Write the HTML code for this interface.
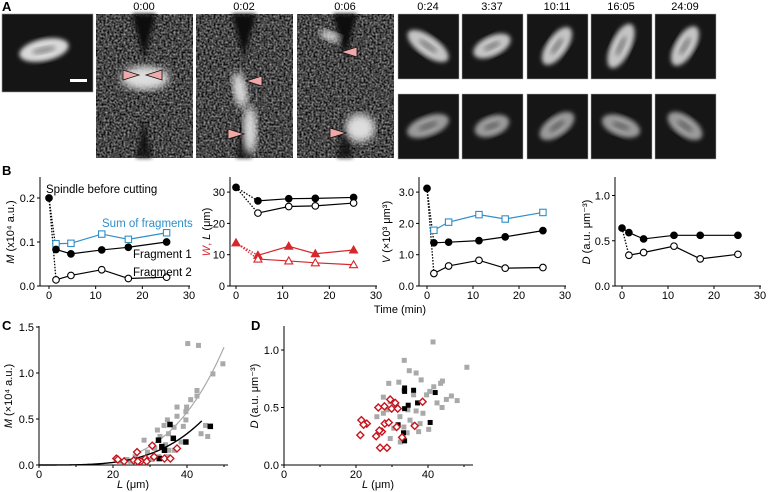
<!DOCTYPE html>
<html><head><meta charset="utf-8"><style>
html,body{margin:0;padding:0;background:#fff;}
svg{display:block;font-family:"Liberation Sans",Arial,sans-serif;}
</style></head><body>
<svg id="fig" width="769" height="492" viewBox="0 0 769 492" xmlns="http://www.w3.org/2000/svg">
<defs>
<filter id="noise" x="0" y="0" width="1" height="1" color-interpolation-filters="sRGB">
<feTurbulence type="fractalNoise" baseFrequency="0.5" numOctaves="2" seed="3"/>
<feColorMatrix type="matrix" values="1.0 0 0 0 -0.22  1.0 0 0 0 -0.22  1.0 0 0 0 -0.22  0 0 0 0 1"/>
</filter>
<filter id="blur2"><feGaussianBlur stdDeviation="2.2"/></filter>
<filter id="blur4"><feGaussianBlur stdDeviation="4"/></filter>
</defs>
<g id="panelA"></g>
<g id="panelB"></g>
<g id="panelCD"></g>
</svg>
<script>
// ---------- Panel B data ----------
const tFrag = [1.5, 4.7, 11.3, 17, 25.2];
const tFragW = [4.7, 11.3, 17, 25.2];
const mSpindle = 0.20;
const mFrag1 = [0.083, 0.073, 0.082, 0.088, 0.100];
const mFrag2 = [0.014, 0.024, 0.037, 0.017, 0.020];
const mSum = [0.096, 0.097, 0.118, 0.106, 0.121];
const lSpindle = 31.5;
const lFrag1 = [27.2, 27.9, 28.0, 28.3];
const lFrag2 = [23.3, 25.4, 25.6, 26.5];
const wSpindle = 13.8;
const wFrag1 = [9.8, 12.7, 10.3, 11.5];
const wFrag2 = [8.6, 8.0, 7.4, 6.8];
const vSpindle = 3.12;
const vFrag1 = [1.38, 1.40, 1.45, 1.57, 1.77];
const vFrag2 = [0.40, 0.64, 0.82, 0.57, 0.59];
const vSum = [1.78, 2.04, 2.28, 2.14, 2.35];
const dSpindle = 0.64;
const dFrag1 = [0.59, 0.52, 0.56, 0.56, 0.56];
const dFrag2 = [0.34, 0.37, 0.44, 0.30, 0.35];
const timeTicks = [0, 10, 20, 30];
const mTicks = ["0.0", "0.1", "0.2"];
const wlTicks = [0, 10, 20, 30];
const vTicks = ["0.0", "1.0", "2.0", "3.0"];
const dTicks = ["0.0", "0.5", "1.0"];
// ---------- Panel C data ----------
const cGreyL = [40.2,43.1,49.7,47,42.7,41,42.7,39.9,37.3,39.7,37.3,34.7,39.7,33.8,36.5,39,32,35,28.4,32.7,45,45.6,43.8,38.4,34.2,31.3,35,29.3,36.5,26,32.4,30.6,23.8,21.9,24.7,34.7];
const cGreyM = [1.32,1.30,1.10,0.99,0.81,0.71,0.75,0.63,0.63,0.58,0.53,0.49,0.49,0.43,0.41,0.42,0.38,0.34,0.27,0.31,0.43,0.31,0.34,0.25,0.22,0.18,0.16,0.14,0.16,0.09,0.09,0.06,0.06,0.04,0.04,0.09];
const cBlackL = [35.4,32.3,36.3,39.7,46.3,33.2,32.5,33.9];
const cBlackM = [0.44,0.27,0.29,0.25,0.42,0.20,0.07,0.16];
const cRedL = [30.6,26.5,20.9,21.3,23,25.6,27.5,28.8,31.1,33.9,35.5,37.3,29.1,26.7];
const cRedM = [0.21,0.14,0.07,0.06,0.04,0.05,0.04,0.07,0.09,0.07,0.07,0.18,0.04,0.04];
const cGreyFit = [1.28, 3.6];  // M at L=50, exponent
const cBlackFit = [0.48, 3.6]; // M at L=44, exponent
const cXTicks = [0, 20, 40];
const cYTicks = ["0.0", "0.5", "1.0", "1.5"];
// ---------- Panel D data ----------
const dGreyL = [41.4,50.8,33.4,34.8,36.7,29.1,31.9,38.1,44,43.5,41.6,40.5,33.3,36,39.6,45.1,46.5,48.1,42.5,43.9,27.6,29.5,31.3,34.4,36.7,38.6,28.6,32.2,35,36,37.8,40.2,30.5,34.2,29.5,32.3,37.4,25.8,27.6,33.3];
const dGreyD = [1.07,0.85,0.91,0.82,0.80,0.71,0.72,0.74,0.73,0.71,0.68,0.64,0.65,0.61,0.61,0.57,0.60,0.56,0.54,0.50,0.59,0.55,0.51,0.48,0.47,0.45,0.48,0.42,0.39,0.35,0.36,0.31,0.32,0.28,0.23,0.20,0.29,0.42,0.45,0.33];
const dBlackL = [33.5,33.5,36,42,34.5,33.5,37.1,31.7,33.2,40.6,33.5];
const dBlackD = [0.67,0.64,0.65,0.63,0.52,0.49,0.54,0.35,0.28,0.37,0.21];
const dRedL = [21.5,23,22.1,21.2,26.2,27.9,29.5,30.9,29.9,31.6,38.5,25.6,27.2,28,29.1,31.3,32.8,36.3,26.7,28.6,26.5];
const dRedD = [0.39,0.36,0.35,0.26,0.50,0.51,0.57,0.54,0.49,0.49,0.55,0.25,0.29,0.36,0.37,0.33,0.24,0.34,0.15,0.15,0.30];
const dXTicks = [0, 20, 40];
const dYTicks = ["0.0", "0.5", "1.0"];
// ---------- Panel A labels ----------
const timeLabels = ["0:00","0:02","0:06","0:24","3:37","10:11","16:05","24:09"];

const NS = "http://www.w3.org/2000/svg";
const BLUE = "#2f8fc8", RED = "#d8262b";
function mk(tag, attrs, parent, txt){
  const e = document.createElementNS(NS, tag);
  for (const k in attrs) e.setAttribute(k, attrs[k]);
  if (txt !== undefined) e.textContent = txt;
  parent.appendChild(e);
  return e;
}
const A = document.getElementById('panelA');
const B = document.getElementById('panelB');
const CD = document.getElementById('panelCD');

// ---------- Panel A ----------
let lab = mk('text',{x:2,y:11,'font-size':13,'font-weight':'bold'},A,'A');


let g0 = mk('g',{},A);


mk('rect',{x:2,y:14,width:91,height:78,fill:'#151515',stroke:'#999','stroke-width':0.6},g0);
mk('ellipse',{cx:44,cy:50,rx:25,ry:11,fill:'#d8d8d8',filter:'url(#blur2)',transform:'rotate(-12 44 50)'},g0);
mk('ellipse',{cx:44,cy:50,rx:12,ry:3.5,fill:'#999',filter:'url(#blur2)',transform:'rotate(-12 44 50)'},g0);
mk('rect',{x:70,y:79,width:17,height:3,fill:'#fff'},g0);

const bigX = [96,196,297];
const bigCfg = [
  {bright:[[145,78,24,12,0]], arrows:[[123,75,1],[162,75,-1]]},
  {bright:[[240,90,7,18,-10],[250,130,7,24,0]], arrows:[[262,81,-1],[228,134,1]]},
  {bright:[[330,36,11,5,20],[360,128,15,14,0]], arrows:[[357,52,-1],[330,133,1]]}
];
for (let i=0;i<3;i++){
  const x=bigX[i], g=mk('g',{},A);
  
  
  mk('rect',{x:x,y:14,width:97,height:144,fill:'#444',filter:'url(#noise)'},g);
  const cx=x+48;
  mk('polygon',{points:`${cx-12},14 ${cx+12},14 ${cx},58`,fill:'#0c0c0c',filter:'url(#blur2)'},g);
  mk('polygon',{points:`${cx-8},158 ${cx+8},158 ${cx},118`,fill:'#111',filter:'url(#blur2)',opacity:0.8},g);
  for (const b of bigCfg[i].bright)
    mk('ellipse',{cx:b[0],cy:b[1],rx:b[2],ry:b[3],fill:'#ddd',filter:'url(#blur4)',transform:`rotate(${b[4]} ${b[0]} ${b[1]})`},g);
  for (const a of bigCfg[i].arrows){
    const [ax,ay,d]=a;
    const tri=mk('polygon',{points:`${ax},${ay-5} ${ax},${ay+5} ${ax+d*16},${ay}`,fill:'#f0a8a8',stroke:'#111','stroke-width':0.8},g);
    
    
  }
  const t=mk('text',{x:x+48,y:10,'font-size':11,'text-anchor':'middle'},g,timeLabels[i]);
  
  
}
const smallX=[398,462,527,591,655];
const topRot=[35,-25,-55,-65,-60], botRot=[-20,-20,-35,20,35];
const topL=[24,20,22,24,22], botL=[22,18,20,20,20];
for (let i=0;i<5;i++){
  for (let r=0;r<2;r++){
    const x=smallX[i], y=r?94:14, g=mk('g',{},A);
    
    
    mk('rect',{x:x,y:y,width:61,height:65,fill:'#161616',stroke:'#aaa','stroke-width':0.5},g);
    const cx=x+30, cy=y+32, rot=r?botRot[i]:topRot[i], L=r?botL[i]:topL[i];
    mk('ellipse',{cx:cx,cy:cy,rx:L,ry:10,fill:r?'#9a9a9a':'#c4c4c4',filter:'url(#blur2)',transform:`rotate(${rot} ${cx} ${cy})`},g);
    mk('ellipse',{cx:cx,cy:cy,rx:L*0.45,ry:3,fill:r?'#6a6a6a':'#888',filter:'url(#blur2)',transform:`rotate(${rot} ${cx} ${cy})`},g);
  }
  const t=mk('text',{x:smallX[i]+30,y:10,'font-size':11,'text-anchor':'middle'},A,timeLabels[i+3]);
  
  
}

function axes(g, o){
  mk('line',{x1:o.axisX,y1:o.y0,x2:o.xEnd,y2:o.y0,stroke:'#000','stroke-width':1},g);
  mk('line',{x1:o.axisX,y1:o.y0,x2:o.axisX,y2:o.yTop,stroke:'#000','stroke-width':1},g);
  o.xt.forEach(v=>{
    const px=o.x0+v*o.xPerUnit;
    mk('line',{x1:px,y1:o.y0,x2:px,y2:o.y0+3,stroke:'#000'},g);
    const t=mk('text',{x:px,y:o.y0+13,'font-size':11,'text-anchor':'middle'},g,String(v));
    
    
  });
  if (o.xMinor) o.xMinor.forEach(v=>{
    const px=o.x0+v*o.xPerUnit;
    mk('line',{x1:px,y1:o.y0,x2:px,y2:o.y0+2,stroke:'#000'},g);
  });
  o.yt.forEach(lbl=>{
    const py=o.y0-parseFloat(lbl)*o.yPerUnit;
    mk('line',{x1:o.axisX-3,y1:py,x2:o.axisX,y2:py,stroke:'#000'},g);
    const t=mk('text',{x:o.axisX-5,y:py+4,'font-size':11,'text-anchor':'end'},g,String(lbl));
    
    
  });
  const sx=v=>o.x0+v*o.xPerUnit, sy=v=>o.y0-v*o.yPerUnit;
  return [sx,sy];
}
function series(g, sx, sy, xs, ys, color, marker, filled, name){
  const sg=mk('g',{},g);
  
  
  mk('polyline',{points:xs.map((x,i)=>sx(x)+','+sy(ys[i])).join(' '),fill:'none',stroke:color,'stroke-width':1.2},sg);
  xs.forEach((x,i)=>marker(sg,sx(x),sy(ys[i]),color,filled));
  return sg;
}
function circ(g,x,y,c,f){const m=mk('circle',{cx:x,cy:y,r:3.3,fill:f?c:'#fff',stroke:c,'stroke-width':1.1},g);
  }
function sq(g,x,y,c,f){const m=mk('rect',{x:x-3.2,y:y-3.2,width:6.4,height:6.4,fill:f?c:'#fff',stroke:c,'stroke-width':1.1},g);
  }
function tri(g,x,y,c,f){const m=mk('polygon',{points:`${x},${y-4} ${x+4},${y+3} ${x-4},${y+3}`,fill:f?c:'#fff',stroke:c,'stroke-width':1.1},g);
  }
function dotted(g,x1,y1,x2,y2,c){mk('line',{x1,y1,x2,y2,stroke:c,'stroke-width':1.3,'stroke-dasharray':'1.5,1.5'},g);}
function ylabel(g,x,y,parts,name){
  const t=mk('text',{x:0,y:0,'font-size':11,'text-anchor':'middle',transform:`translate(${x},${y}) rotate(-90)`},g);
  
  
  parts.forEach(p=>{mk('tspan',p.a||{},t,p.t);});
  return t;
}

// ---------- Panel B ----------
lab=mk('text',{x:2,y:175,'font-size':13,'font-weight':'bold'},B,'B');


let g=mk('g',{},B);  
let [sx,sy]=axes(g,{axisX:40,x0:49,xPerUnit:140/30,xEnd:190,y0:286,yPerUnit:440,yTop:177,xt:timeTicks,yt:mTicks});
dotted(g,sx(0),sy(mSpindle),sx(tFrag[0]),sy(mFrag1[0]),'#000');
dotted(g,sx(0),sy(mSpindle),sx(tFrag[0]),sy(mFrag2[0]),'#000');
series(g,sx,sy,tFrag,mSum,BLUE,sq,false,'sum-of-fragments-series');
series(g,sx,sy,tFrag,mFrag1,'#000',circ,true,'fragment1-series');
series(g,sx,sy,tFrag,mFrag2,'#000',circ,false,'fragment2-series');
circ(g,sx(0),sy(mSpindle),'#000',true);
[['Spindle before cutting',46,193,'#000','spindle-annotation'],['Sum of fragments',102,227,BLUE,'sum-annotation'],['Fragment 1',133,258,'#000','fragment1-annotation'],['Fragment 2',133,276,'#000','fragment2-annotation']].forEach(a=>{
  const t=mk('text',{x:a[1],y:a[2],'font-size':11.5,fill:a[3]},g,a[0]);
   
});
ylabel(g,14,232,[{t:'M',a:{'font-style':'italic'}},{t:' (x10⁴ a.u.)'}],'y-axis-title-mass');

g=mk('g',{},B);  
[sx,sy]=axes(g,{axisX:230,x0:236,xPerUnit:140/30,xEnd:377,y0:286,yPerUnit:3.13,yTop:177,xt:timeTicks,yt:wlTicks.map(String)});
dotted(g,sx(0),sy(lSpindle),sx(tFragW[0]),sy(lFrag1[0]),'#000');
dotted(g,sx(0),sy(lSpindle),sx(tFragW[0]),sy(lFrag2[0]),'#000');
dotted(g,sx(0),sy(wSpindle),sx(tFragW[0]),sy(wFrag1[0]),RED);
dotted(g,sx(0),sy(wSpindle),sx(tFragW[0]),sy(wFrag2[0]),RED);
series(g,sx,sy,tFragW,lFrag1,'#000',circ,true,'length-fragment1-series');
series(g,sx,sy,tFragW,lFrag2,'#000',circ,false,'length-fragment2-series');
series(g,sx,sy,tFragW,wFrag1,RED,tri,true,'width-fragment1-series');
series(g,sx,sy,tFragW,wFrag2,RED,tri,false,'width-fragment2-series');
circ(g,sx(0),sy(lSpindle),'#000',true);
tri(g,sx(0),sy(wSpindle),RED,true);
ylabel(g,210,232,[{t:'W',a:{'font-style':'italic',fill:RED}},{t:', ',a:{fill:RED}},{t:'L',a:{'font-style':'italic'}},{t:' (μm)'}],'y-axis-title-width-length');

g=mk('g',{},B);  
[sx,sy]=axes(g,{axisX:419,x0:427,xPerUnit:138/30,xEnd:566,y0:286,yPerUnit:31.3,yTop:177,xt:timeTicks,yt:vTicks});
dotted(g,sx(0),sy(vSpindle),sx(tFrag[0]),sy(vFrag1[0]),'#000');
dotted(g,sx(0),sy(vSpindle),sx(tFrag[0]),sy(vFrag2[0]),'#000');
series(g,sx,sy,tFrag,vSum,BLUE,sq,false,'volume-sum-series');
series(g,sx,sy,tFrag,vFrag1,'#000',circ,true,'volume-fragment1-series');
series(g,sx,sy,tFrag,vFrag2,'#000',circ,false,'volume-fragment2-series');
circ(g,sx(0),sy(vSpindle),'#000',true);
ylabel(g,390,232,[{t:'V',a:{'font-style':'italic'}},{t:' (×10³ μm³)'}],'y-axis-title-volume');
let tt=mk('text',{x:400,y:313,'font-size':11,'text-anchor':'middle'},B,'Time (min)');
 

g=mk('g',{},B);  
[sx,sy]=axes(g,{axisX:615,x0:622,xPerUnit:138/30,xEnd:761,y0:286,yPerUnit:90.5,yTop:177,xt:timeTicks,yt:dTicks});
dotted(g,sx(0),sy(dSpindle),sx(tFrag[0]),sy(dFrag1[0]),'#000');
dotted(g,sx(0),sy(dSpindle),sx(tFrag[0]),sy(dFrag2[0]),'#000');
series(g,sx,sy,tFrag,dFrag1,'#000',circ,true,'density-fragment1-series');
series(g,sx,sy,tFrag,dFrag2,'#000',circ,false,'density-fragment2-series');
circ(g,sx(0),sy(dSpindle),'#000',true);
ylabel(g,590,232,[{t:'D',a:{'font-style':'italic'}},{t:' (a.u. μm⁻³)'}],'y-axis-title-density');

// ---------- Panel C ----------
function dia(g,x,y,c){const m=mk('polygon',{points:`${x},${y-3.5} ${x+3.5},${y} ${x},${y+3.5} ${x-3.5},${y}`,fill:'#fff',stroke:c,'stroke-width':1.4},g);
  }
function sqp(g,x,y,c,s){const m=mk('rect',{x:x-s/2,y:y-s/2,width:s,height:s,fill:c},g);
  }
lab=mk('text',{x:2,y:330,'font-size':13,'font-weight':'bold'},CD,'C');
 
g=mk('g',{},CD);  
[sx,sy]=axes(g,{axisX:39,x0:39,xPerUnit:3.7,xEnd:228,y0:465,yPerUnit:92,yTop:326,xt:cXTicks,xMinor:[10,30,50],yt:cYTicks});
let sgc=mk('g',{},g);  
cGreyL.forEach((L,i)=>sqp(sgc,sx(L),sy(cGreyM[i]),'#a9a9a9',5));
function fitPath(L0,LEnd,ref,mref,k){const p=[];for(let L=L0;L<=LEnd;L+=0.5)p.push(sx(L)+','+sy(mref*Math.pow(L/ref,k)));return p.join(' ');}
let fl=mk('polyline',{points:fitPath(26,50,50,cGreyFit[0],cGreyFit[1]),fill:'none',stroke:'#aaa','stroke-width':1.2},g);
 
fl=mk('polyline',{points:fitPath(0,44,44,cBlackFit[0],cBlackFit[1]),fill:'none',stroke:'#000','stroke-width':1.4},g);
 
sgc=mk('g',{},g);  
cBlackL.forEach((L,i)=>sqp(sgc,sx(L),sy(cBlackM[i]),'#000',5.5));
sgc=mk('g',{},g);  
cRedL.forEach((L,i)=>dia(sgc,sx(L),sy(cRedM[i]),'#c8141c'));
ylabel(g,12,396,[{t:'M',a:{'font-style':'italic'}},{t:' (×10⁴ a.u.)'}],'y-axis-title-c');
tt=mk('text',{x:133,y:488,'font-size':11,'text-anchor':'middle'},g);
 
mk('tspan',{'font-style':'italic'},tt,'L'); mk('tspan',{},tt,' (μm)');

// ---------- Panel D ----------
lab=mk('text',{x:251,y:330,'font-size':13,'font-weight':'bold'},CD,'D');
 
g=mk('g',{},CD);  
[sx,sy]=axes(g,{axisX:284,x0:284,xPerUnit:3.6,xEnd:473,y0:465,yPerUnit:115,yTop:326,xt:dXTicks,xMinor:[10,30,50],yt:dYTicks});
sgc=mk('g',{},g);  
dGreyL.forEach((L,i)=>sqp(sgc,sx(L),sy(dGreyD[i]),'#a9a9a9',5));
sgc=mk('g',{},g);  
dBlackL.forEach((L,i)=>sqp(sgc,sx(L),sy(dBlackD[i]),'#000',5));
sgc=mk('g',{},g);  
dRedL.forEach((L,i)=>dia(sgc,sx(L),sy(dRedD[i]),'#c8141c'));
ylabel(g,258,396,[{t:'D',a:{'font-style':'italic'}},{t:' (a.u. μm⁻³)'}],'y-axis-title-d');
tt=mk('text',{x:378,y:488,'font-size':11,'text-anchor':'middle'},g);
 
mk('tspan',{'font-style':'italic'},tt,'L'); mk('tspan',{},tt,' (μm)');
</script>
</body></html>
